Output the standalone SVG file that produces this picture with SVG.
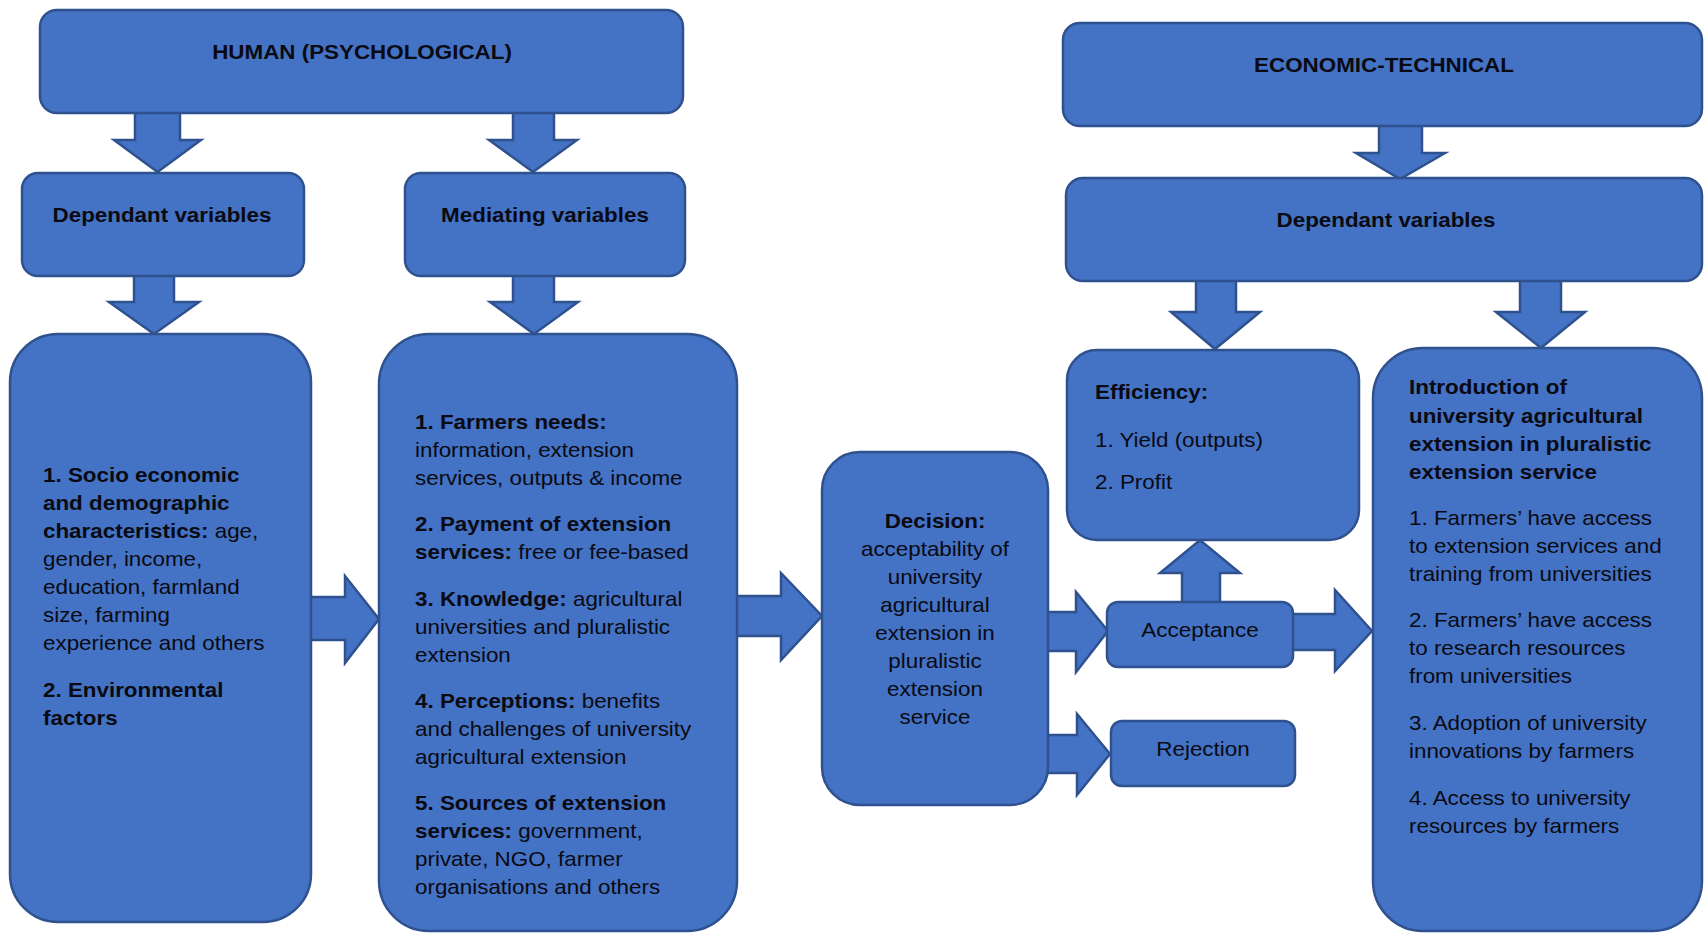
<svg xmlns="http://www.w3.org/2000/svg" width="1704" height="934" viewBox="0 0 1704 934">
<style>
.box{fill:#4472C4;stroke:#2F528F;stroke-width:2.5}
.arr{fill:#4472C4;stroke:#2F528F;stroke-width:2.5;stroke-linejoin:miter}
text{font-family:"Liberation Sans",Arial,sans-serif;font-size:20px;fill:#0a0a12}
.b{font-weight:bold}
.c{text-anchor:middle}
.n{font-weight:normal}
</style>
<rect width="1704" height="934" fill="#ffffff"/>
<g id="connectors">
<polygon class="arr" points="135,108 180,108 180,140 201,140 157.5,172 114,140 135,140"/>
<polygon class="arr" points="513,108 554,108 554,140 577,140 533,172 489,140 513,140"/>
<polygon class="arr" points="134,272 174,272 174,302 199,302 154,334 109,302 134,302"/>
<polygon class="arr" points="513,272 554,272 554,302 578,302 534,334 490,302 513,302"/>
<polygon class="arr" points="1379,122 1422,122 1422,153 1445,153 1400,179 1356,153 1379,153"/>
<polygon class="arr" points="1196,277 1236,277 1236,312 1260,312 1215,349 1171,312 1196,312"/>
<polygon class="arr" points="1520,277 1561,277 1561,312 1585,312 1541,348 1496,312 1520,312"/>
<polygon class="arr" points="307,597 345,597 345,576 379,619 345,663 345,640 307,640"/>
<polygon class="arr" points="734,596 781,596 781,573 822,616 781,660 781,636 734,636"/>
<polygon class="arr" points="1045,612 1076,612 1076,592 1108,631 1076,672 1076,651 1045,651"/>
<polygon class="arr" points="1045,735 1077,735 1077,714 1110,754 1077,795 1077,773 1045,773"/>
<polygon class="arr" points="1290,614 1335,614 1335,590 1372,631 1335,671 1335,650 1290,650"/>
<polygon class="arr" points="1182,605 1182,573 1160,573 1200,540 1240,573 1220,573 1220,605"/>
</g>
<g id="human">
<rect class="box" x="40" y="10" width="643" height="103" rx="17"/>
<g transform="translate(362,0) scale(1.12,1)"><text class="b c" x="0" y="59">HUMAN (PSYCHOLOGICAL)</text></g>
</g>
<g id="dep-left">
<rect class="box" x="22" y="173" width="282" height="103" rx="16"/>
<g transform="translate(162,0) scale(1.12,1)"><text class="b c" x="0" y="222">Dependant variables</text></g>
</g>
<g id="mediating">
<rect class="box" x="405" y="173" width="280" height="103" rx="16"/>
<g transform="translate(545,0) scale(1.12,1)"><text class="b c" x="0" y="222">Mediating variables</text></g>
</g>
<g id="socio">
<rect class="box" x="10" y="334" width="301" height="588" rx="48"/>
<g transform="translate(43,0) scale(1.12,1)">
<text class="b" x="0" y="482">1. Socio economic</text>
<text class="b" x="0" y="510">and demographic</text>
<text x="0" y="538"><tspan class="b">characteristics:</tspan> age,</text>
<text x="0" y="566">gender, income,</text>
<text x="0" y="594">education, farmland</text>
<text x="0" y="622">size, farming</text>
<text x="0" y="650">experience and others</text>
<text class="b" x="0" y="697">2. Environmental</text>
<text class="b" x="0" y="725">factors</text>
</g>
</g>
<g id="mediating-list">
<rect class="box" x="379" y="334" width="358" height="597" rx="50"/>
<g transform="translate(415,0) scale(1.12,1)">
<text class="b" x="0" y="429">1. Farmers needs:</text>
<text x="0" y="457">information, extension</text>
<text x="0" y="485">services, outputs &amp; income</text>
<text class="b" x="0" y="531">2. Payment of extension</text>
<text x="0" y="559"><tspan class="b">services:</tspan> free or fee-based</text>
<text x="0" y="606"><tspan class="b">3. Knowledge:</tspan> agricultural</text>
<text x="0" y="634">universities and pluralistic</text>
<text x="0" y="662">extension</text>
<text x="0" y="708"><tspan class="b">4. Perceptions:</tspan> benefits</text>
<text x="0" y="736">and challenges of university</text>
<text x="0" y="764">agricultural extension</text>
<text class="b" x="0" y="810">5. Sources of extension</text>
<text x="0" y="838"><tspan class="b">services:</tspan> government,</text>
<text x="0" y="866">private, NGO, farmer</text>
<text x="0" y="894">organisations and others</text>
</g>
</g>
<g id="decision">
<rect class="box" x="822" y="452" width="226" height="353" rx="38"/>
<g transform="translate(935,0) scale(1.12,1)">
<text class="b c" x="0" y="528">Decision:</text>
<text class="c" x="0" y="556">acceptability of</text>
<text class="c" x="0" y="584">university</text>
<text class="c" x="0" y="612">agricultural</text>
<text class="c" x="0" y="640">extension in</text>
<text class="c" x="0" y="668">pluralistic</text>
<text class="c" x="0" y="696">extension</text>
<text class="c" x="0" y="724">service</text>
</g>
</g>
<g id="efficiency">
<rect class="box" x="1067" y="350" width="292" height="190" rx="30"/>
<g transform="translate(1095,0) scale(1.12,1)">
<text class="b" x="0" y="399">Efficiency:</text>
<text x="0" y="447">1. Yield (outputs)</text>
<text x="0" y="489">2. Profit</text>
</g>
</g>
<g id="acceptance">
<rect class="box" x="1107" y="602" width="186" height="65" rx="11"/>
<g transform="translate(1200,0) scale(1.07,1)"><text class="c" x="0" y="637" style="font-size:21px">Acceptance</text></g>
</g>
<g id="rejection">
<rect class="box" x="1111" y="721" width="184" height="65" rx="11"/>
<g transform="translate(1203,0) scale(1.07,1)"><text class="c" x="0" y="756" style="font-size:21px">Rejection</text></g>
</g>
<g id="economic-technical">
<rect class="box" x="1063" y="23" width="639" height="103" rx="17"/>
<g transform="translate(1384,0) scale(1.12,1)"><text class="b c" x="0" y="72">ECONOMIC-TECHNICAL</text></g>
</g>
<g id="dep-right">
<rect class="box" x="1066" y="178" width="636" height="103" rx="17"/>
<g transform="translate(1386,0) scale(1.12,1)"><text class="b c" x="0" y="227">Dependant variables</text></g>
</g>
<g id="introduction">
<rect class="box" x="1373" y="348" width="329" height="583" rx="50"/>
<g transform="translate(1409,0) scale(1.12,1)">
<text class="b" x="0" y="394">Introduction of</text>
<text class="b" x="0" y="423">university agricultural</text>
<text class="b" x="0" y="451">extension in pluralistic</text>
<text class="b" x="0" y="479">extension service</text>
<text x="0" y="525">1. Farmers’ have access</text>
<text x="0" y="553">to extension services and</text>
<text x="0" y="581">training from universities</text>
<text x="0" y="627">2. Farmers’ have access</text>
<text x="0" y="655">to research resources</text>
<text x="0" y="683">from universities</text>
<text x="0" y="730">3. Adoption of university</text>
<text x="0" y="758">innovations by farmers</text>
<text x="0" y="805">4. Access to university</text>
<text x="0" y="833">resources by farmers</text>
</g>
</g>
</svg>
